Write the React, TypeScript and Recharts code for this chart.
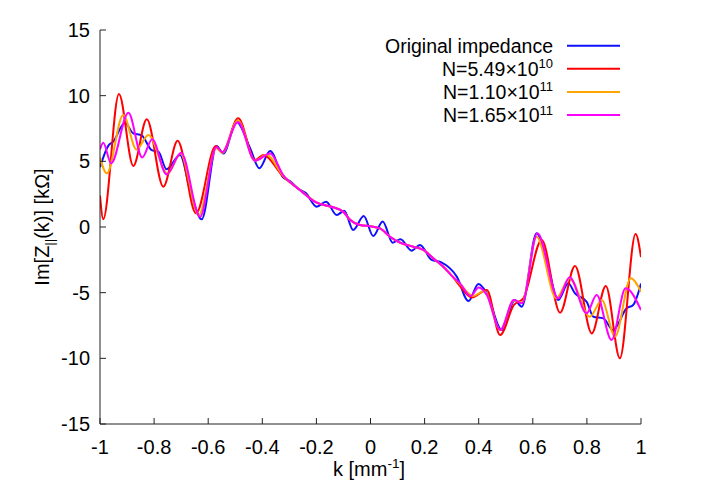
import React from 'react';
import { LineChart, Line, XAxis, YAxis } from 'recharts';

const FONT = '"Liberation Sans", Arial, Helvetica, sans-serif';

const xTicks = [-1, -0.8, -0.6, -0.4, -0.2, 0, 0.2, 0.4, 0.6, 0.8, 1];
const yTicks = [-15, -10, -5, 0, 5, 10, 15];

const seriesNames = ['Original impedance', 'N=5.49×10', 'N=1.10×10', 'N=1.65×10'];
const seriesExponents = ['', '10', '11', '11'];
const seriesColors = ['#1010ff', '#ff0000', '#ffa500', '#ff00ff'];

const originalK = [-1.0, -0.969, -0.951, -0.908, -0.877, -0.846, -0.809, -0.784, -0.754, -0.704, -0.667, -0.624, -0.569, -0.544, -0.495, -0.445, -0.411, -0.371, -0.323, -0.298, -0.261, -0.24, -0.199, -0.164, -0.125, -0.097, -0.064, -0.025, 0.01, 0.045, 0.082, 0.111, 0.152, 0.183, 0.226, 0.26, 0.319, 0.362, 0.399, 0.43, 0.485, 0.534, 0.559, 0.614, 0.651, 0.694, 0.731, 0.756, 0.799, 0.824, 0.861, 0.897, 0.947, 0.971, 1.0];
const originalV = [4.55, 6.2, 6.5, 7.94, 7.13, 6.98, 5.86, 5.73, 4.4, 5.48, 2.82, 0.59, 6.17, 5.6, 8.0, 6.0, 4.47, 5.79, 3.78, 3.5, 2.82, 2.6, 1.55, 1.93, 0.91, 1.24, -0.23, 0.84, -0.69, 0.41, -1.19, -0.94, -1.8, -1.37, -2.51, -2.68, -3.78, -5.64, -4.34, -5.05, -7.84, -5.56, -6.07, -0.48, -2.51, -5.56, -4.29, -5.05, -5.69, -6.83, -6.96, -7.84, -6.19, -5.94, -4.3];

const n549K = [-1.0, -0.988, -0.93, -0.877, -0.827, -0.766, -0.713, -0.645, -0.572, -0.548, -0.489, -0.427, -0.396, -0.323, -0.261, -0.199, -0.137, -0.1, -0.076, -0.039, 0.0, 0.035, 0.072, 0.109, 0.158, 0.195, 0.232, 0.269, 0.306, 0.331, 0.374, 0.43, 0.479, 0.53, 0.565, 0.633, 0.701, 0.756, 0.818, 0.87, 0.922, 0.98, 1.0];
const n549V = [2.4, 0.6, 10.13, 4.65, 8.2, 3.07, 6.57, 1.04, 6.17, 5.7, 8.28, 5.1, 5.48, 3.85, 2.82, 1.85, 1.5, 1.15, 0.55, 0.15, 0.05, -0.1, -0.74, -1.19, -1.5, -1.75, -2.39, -3.02, -3.83, -4.5, -5.36, -4.8, -8.23, -5.94, -5.43, -0.99, -6.52, -2.97, -8.1, -4.49, -10.0, -0.53, -2.3];

const n110K = [-1.0, -0.975, -0.914, -0.865, -0.821, -0.75, -0.702, -0.635, -0.57, -0.548, -0.49, -0.427, -0.385, -0.323, -0.261, -0.199, -0.137, -0.1, -0.076, -0.039, 0.0, 0.035, 0.072, 0.109, 0.158, 0.195, 0.232, 0.269, 0.306, 0.331, 0.38, 0.42, 0.48, 0.53, 0.56, 0.614, 0.687, 0.736, 0.811, 0.855, 0.904, 0.962, 1.0];
const n110V = [5.3, 4.09, 8.53, 5.9, 7.0, 4.05, 5.6, 0.9, 6.0, 5.65, 8.1, 5.05, 5.5, 3.9, 2.82, 1.85, 1.5, 1.15, 0.55, 0.15, 0.05, -0.1, -0.74, -1.19, -1.5, -1.75, -2.39, -3.02, -3.83, -4.35, -5.26, -4.87, -7.84, -5.6, -5.75, -0.74, -5.43, -3.9, -6.83, -5.56, -8.35, -3.9, -4.93];

const n165K = [-1.0, -0.988, -0.959, -0.895, -0.844, -0.807, -0.754, -0.7, -0.63, -0.57, -0.548, -0.49, -0.427, -0.371, -0.323, -0.261, -0.199, -0.137, -0.1, -0.076, -0.039, 0.0, 0.035, 0.072, 0.109, 0.158, 0.195, 0.232, 0.269, 0.306, 0.331, 0.37, 0.4, 0.43, 0.48, 0.53, 0.56, 0.617, 0.694, 0.736, 0.799, 0.836, 0.891, 0.943, 1.0];
const n165V = [5.9, 6.42, 4.85, 8.7, 5.3, 6.68, 4.0, 5.66, 0.77, 6.1, 5.7, 8.0, 5.05, 5.6, 3.96, 2.82, 1.85, 1.5, 1.15, 0.55, 0.15, 0.05, -0.1, -0.74, -1.19, -1.5, -1.75, -2.39, -3.02, -3.83, -4.29, -5.26, -4.6, -5.17, -7.84, -5.56, -5.81, -0.48, -5.43, -3.83, -6.57, -5.18, -8.6, -4.67, -6.32];

const toData = (ks: number[], vs: number[]) => ks.map((k, i) => ({ k, v: vs[i] }));
const seriesData = [toData(originalK, originalV), toData(n549K, n549V), toData(n110K, n110V), toData(n165K, n165V)];

const W = 706;
const H = 494;
const FS = 20;
const LFS = 19.5;

export default function App() {
  return (
    <div style={{ position: 'absolute', left: 0, top: 0, width: W, height: H, background: '#fff' }}>
      <LineChart width={W} height={H} margin={{ top: 30, right: 65, bottom: 40, left: 40 }}>
        <XAxis
          dataKey="k"
          type="number"
          domain={[-1, 1]}
          ticks={xTicks}
          interval={0}
          allowDataOverflow
          height={30}
          tickSize={-6}
          tickMargin={22}
          stroke="#222"
          tick={{ fill: '#000', fontSize: FS, fontFamily: FONT }}
        />
        <XAxis
          xAxisId="top"
          orientation="top"
          dataKey="k"
          type="number"
          domain={[-1, 1]}
          ticks={xTicks}
          interval={0}
          height={0}
          tickSize={-6}
          stroke="#222"
          tick={() => <g />}
        />
        <YAxis
          type="number"
          domain={[-15, 15]}
          ticks={yTicks}
          interval={0}
          allowDataOverflow
          width={60}
          tickSize={-6}
          tickMargin={16}
          stroke="#222"
          tick={{ fill: '#000', fontSize: FS, fontFamily: FONT }}
        />
        <YAxis
          yAxisId="right"
          orientation="right"
          type="number"
          domain={[-15, 15]}
          ticks={yTicks}
          interval={0}
          width={0}
          tickSize={-6}
          stroke="#222"
          tick={() => <g />}
        />
        {seriesData.map((d, i) => (
          <Line
            key={seriesNames[i] + i}
            data={d}
            dataKey="v"
            type="monotone"
            stroke={seriesColors[i]}
            strokeWidth={2}
            dot={false}
            activeDot={false}
            isAnimationActive={false}
          />
        ))}
      </LineChart>
      <svg
        width={W}
        height={H}
        style={{ position: 'absolute', left: 0, top: 0, pointerEvents: 'none' }}
        fontFamily={FONT}
      >
        <text
          x={0}
          y={0}
          transform="translate(49 227) rotate(-90)"
          textAnchor="middle"
          fontSize={FS}
          fill="#000"
        >
          Im[Z
          <tspan dy={5} fontSize={13}>||</tspan>
          <tspan dy={-5}>(k)] [kΩ]</tspan>
        </text>
        <text x={369} y={476} textAnchor="middle" fontSize={FS} fill="#000">
          k [mm
          <tspan dy={-8} fontSize={13.5}>-1</tspan>
          <tspan dy={8}>]</tspan>
        </text>
        {seriesNames.map((name, i) => {
          const cy = 45.7 + i * 23.1;
          return (
            <g key={name + i}>
              <text x={553} y={cy + 7} textAnchor="end" fontSize={LFS} fill="#000">
                {name}
                {seriesExponents[i] ? (
                  <tspan dy={-7.5} fontSize={13}>{seriesExponents[i]}</tspan>
                ) : null}
              </text>
              <line x1={567} x2={620} y1={cy} y2={cy} stroke={seriesColors[i]} strokeWidth={2} />
            </g>
          );
        })}
      </svg>
    </div>
  );
}
